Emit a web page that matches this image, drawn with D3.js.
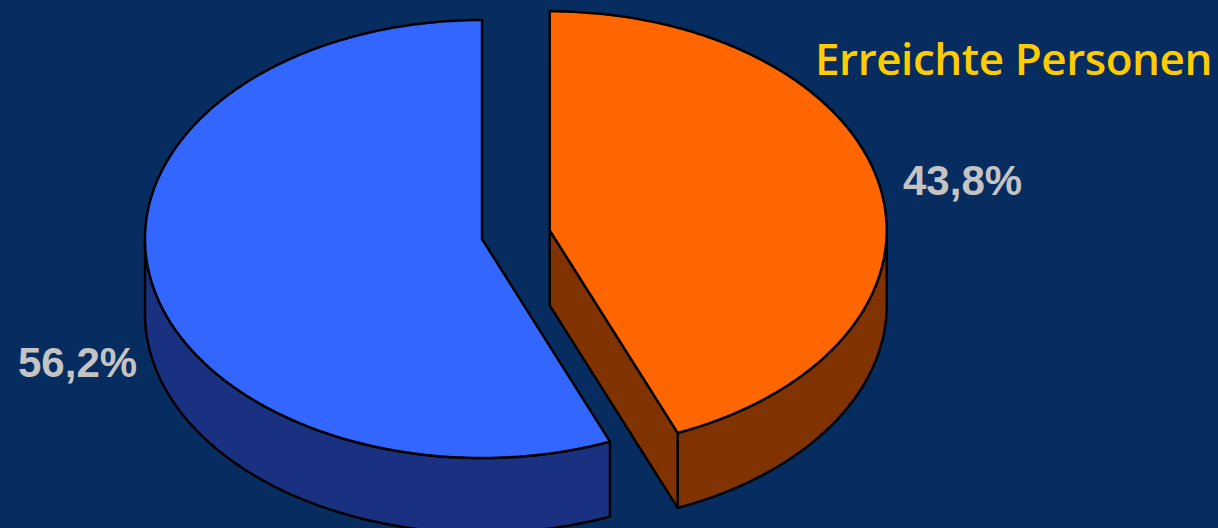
<!DOCTYPE html>
<html>
<head>
<meta charset="utf-8">
<script src="https://cdn.jsdelivr.net/npm/d3@7"></script>
<style>
  html, body { margin: 0; padding: 0; background: #072c60; }
  svg { display: block; }
</style>
</head>
<body>
<svg id="chart" width="1218" height="528"></svg>
<script>
// Share of people reached, in percent
const sliceKeys = ["erreicht", "nicht erreicht"];
const shares = [43.8, 56.2];
const valueLabels = ["43,8%", "56,2%"];
const titleText = "Erreichte Personen";

const W = 1218, H = 528;
const topColors = ["#ff6600", "#3366ff"];
const sideColors = ["#803300", "#1a3080"];
const explode = [69, 0];          // radial offset of each slice, px
const labelPos = [[903, 195], [18, 377]];

// Pie geometry: flattened ellipse with extruded depth
const cx = 482, cy = 239, rx = 337, ry = 219, depth = 75;

const svg = d3.select("#chart");
svg.append("rect").attr("width", W).attr("height", H).attr("fill", "#072c60");

const arcs = d3.pie().sort(null).value(d => d)(shares);

// Project a polar point (angle clockwise from 12 o'clock) onto the tilted disc
function pt(o, a, r, z) {
  return [o[0] + rx * r * Math.sin(a), o[1] - ry * r * Math.cos(a) + z];
}
function rimPoints(o, a0, a1, z) {
  const n = Math.max(2, Math.ceil(Math.abs(a1 - a0) / 0.01));
  return d3.range(n + 1).map(i => pt(o, a0 + (a1 - a0) * i / n, 1, z));
}
const line = d3.line().curve(d3.curveLinear);

const slices = arcs.map((a, i) => {
  const mid = (a.startAngle + a.endAngle) / 2;
  const d = explode[i];
  const o = [cx + d * Math.sin(mid), cy - d * Math.cos(mid) * ry / rx];
  return { a, i, o };
});

const g = svg.append("g")
  .attr("stroke", "#000")
  .attr("stroke-width", 2.5)
  .attr("stroke-linejoin", "round");

// Side walls first
slices.forEach(({ a, i, o }) => {
  // outer rim, front half only
  const s = Math.max(a.startAngle, Math.PI / 2);
  const e = Math.min(a.endAngle, 3 * Math.PI / 2);
  if (e > s) {
    const pts = rimPoints(o, s, e, 0).concat(rimPoints(o, e, s, depth));
    g.append("path").attr("d", line(pts) + "Z").attr("fill", sideColors[i]);
  }
  // cut face at the start angle
  if (Math.cos(a.startAngle - Math.PI / 2) < -1e-6) {
    const p = pt(o, a.startAngle, 1, 0), q = pt(o, a.startAngle, 1, depth);
    g.append("path").attr("d", line([o, p, q, [o[0], o[1] + depth]]) + "Z")
      .attr("fill", sideColors[i]);
  }
  // cut face at the end angle
  if (Math.cos(a.endAngle + Math.PI / 2) < -1e-6) {
    const p = pt(o, a.endAngle, 1, 0), q = pt(o, a.endAngle, 1, depth);
    g.append("path").attr("d", line([o, p, q, [o[0], o[1] + depth]]) + "Z")
      .attr("fill", sideColors[i]);
  }
});

// Top faces
slices.forEach(({ a, i, o }) => {
  const pts = [o].concat(rimPoints(o, a.startAngle, a.endAngle, 0));
  g.append("path").attr("d", line(pts) + "Z").attr("fill", topColors[i]);
});

// Percentage labels
svg.selectAll("text.val").data(valueLabels).enter().append("text")
  .attr("class", "val")
  .attr("x", (d, i) => labelPos[i][0])
  .attr("y", (d, i) => labelPos[i][1])
  .attr("font-family", "Liberation Sans, Arial, sans-serif")
  .attr("font-weight", "bold")
  .attr("font-size", 42)
  .attr("fill", "#c4c4c4")
  .text(d => d);

// Title, tracked so it spans 397px ending at x = 1212
const title = svg.append("text")
  .attr("x", 815).attr("y", 75)
  .attr("font-family", "Century Gothic, Open Sans, sans-serif")
  .attr("font-size", 44)
  .attr("font-weight", 600)
  .attr("fill", "#ffcc00")
  .text(titleText);
const natural = title.node().getComputedTextLength();
title.attr("letter-spacing", ((397 - natural) / titleText.length).toFixed(2));
</script>
</body>
</html>
